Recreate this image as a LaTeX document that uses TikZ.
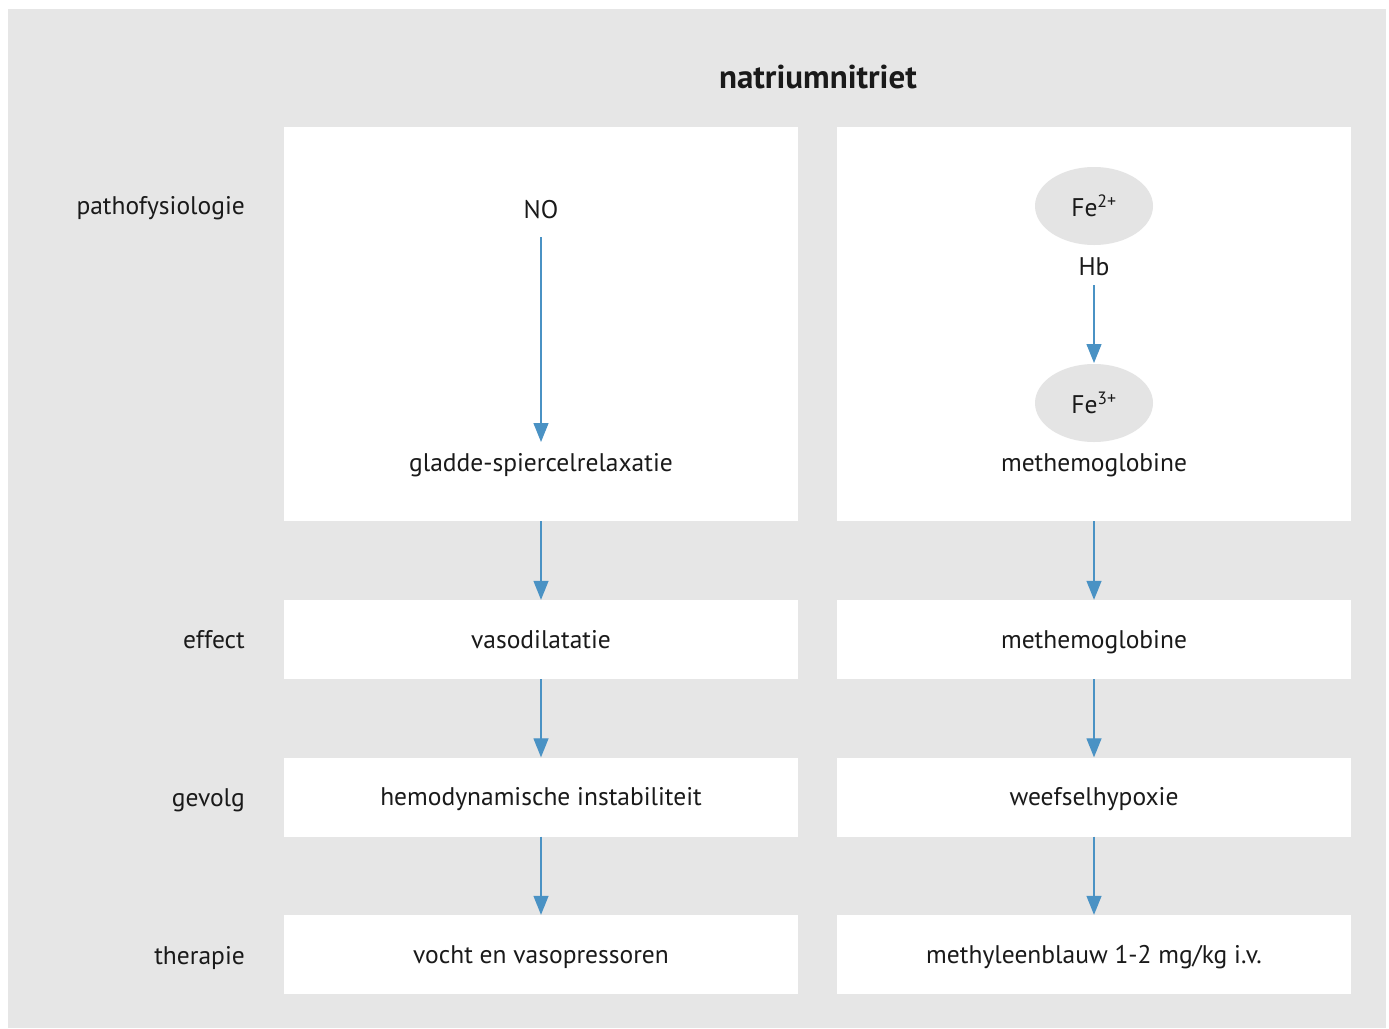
\documentclass[tikz,border=0pt]{standalone}
\usepackage{fontspec}
\setmainfont{PT Sans}
\usetikzlibrary{arrows.meta,shapes.geometric}
\definecolor{bggrey}{HTML}{E6E6E6}
\definecolor{ellgrey}{HTML}{E4E4E4}
\definecolor{arrblue}{HTML}{4A92C4}
\definecolor{txt}{HTML}{1A1A1A}
\tikzset{
  box/.style={fill=white, draw=none, minimum width=514pt, inner sep=0pt},
  bigbox/.style={box, minimum height=394pt},
  rowbox/.style={box, minimum height=79pt},
  lbl/.style={text=txt, font=\fontsize{25.5}{30}\selectfont, inner sep=0pt, text height=17pt, text depth=6pt},
  rowlbl/.style={lbl, anchor=east},
  ell/.style={ellipse, fill=ellgrey, minimum width=118pt, minimum height=78pt, inner sep=0pt, text=txt, font=\fontsize{25.5}{30}\selectfont},
  arr/.style={draw=arrblue, line width=1.3pt, -{Triangle[length=19pt,width=15pt]}},
}
\begin{document}
\begin{tikzpicture}[x=1pt,y=-1pt]
\useasboundingbox (0,0) rectangle (1389,1028);
\fill[bggrey] (8,9) rectangle (1386,1028);
\node[text=txt, inner sep=0pt, font=\fontsize{33}{38}\selectfont\bfseries] (title) at (818,77) {natriumnitriet};
% left column
\node[bigbox] (Lbig) at (541,324) {};
\node[rowbox] (Leff) at (541,639.5) {};
\node[rowbox] (Lgev) at (541,797) {};
\node[rowbox] (Lther) at (541,954.5) {};
% right column
\node[bigbox] (Rbig) at (1094,324) {};
\node[rowbox] (Reff) at (1094,639.5) {};
\node[rowbox] (Rgev) at (1094,797) {};
\node[rowbox] (Rther) at (1094,954.5) {};
% row labels
\node[rowlbl] (lpath) at (245,209) {pathofysiologie};
\node[rowlbl] (leff) at (245,643) {effect};
\node[rowlbl] (lgev) at (245,800.5) {gevolg};
\node[rowlbl] (lther) at (245,958.5) {therapie};
% texts
\node[lbl] (NO) at (541,213) {NO};
\node[lbl] (gsr) at (541,466) {gladde-spiercelrelaxatie};
\node[lbl] at ([yshift=-3pt]Leff.center) {vasodilatatie};
\node[lbl] at ([yshift=-3pt]Lgev.center) {hemodynamische instabiliteit};
\node[lbl] at ([yshift=-3pt]Lther.center) {vocht en vasopressoren};
\node[ell] (fe2) at (1094,206) {Fe\textsuperscript{2+}};
\node[lbl] (hb) at (1094,270) {Hb};
\node[ell] (fe3) at (1094,403) {Fe\textsuperscript{3+}};
\node[lbl] (meth) at (1094,466) {methemoglobine};
\node[lbl] at ([yshift=-3pt]Reff.center) {methemoglobine};
\node[lbl] at ([yshift=-3pt]Rgev.center) {weefselhypoxie};
\node[lbl] at ([yshift=-3pt]Rther.center) {methyleenblauw 1-2 mg/kg i.v.};
% arrows
\coordinate (noS) at (541,237);
\coordinate (gsrN) at (541,442);
\draw[arr] (noS) -- (gsrN);
\coordinate (hbS) at (1094,285);
\coordinate (fe3N) at (1094,363);
\draw[arr] (hbS) -- (fe3N);
\draw[arr] (Lbig.south) -- (Leff.north);
\draw[arr] (Leff.south) -- (Lgev.north);
\draw[arr] (Lgev.south) -- (Lther.north);
\draw[arr] (Rbig.south) -- (Reff.north);
\draw[arr] (Reff.south) -- (Rgev.north);
\draw[arr] (Rgev.south) -- (Rther.north);
\end{tikzpicture}
\end{document}
